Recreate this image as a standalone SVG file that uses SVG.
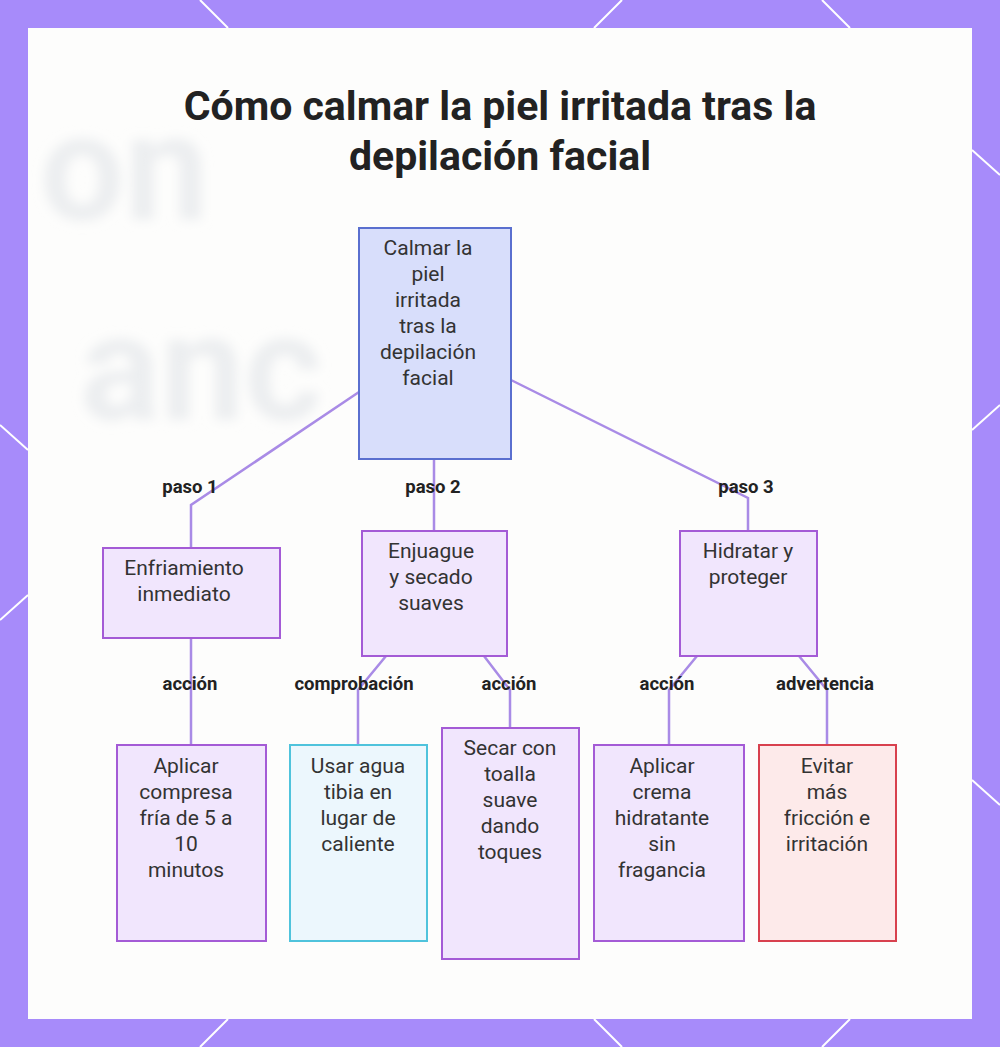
<svg xmlns="http://www.w3.org/2000/svg" width="1000" height="1047" viewBox="0 0 1000 1047">
<style>
.t{font-family:Roboto,"Liberation Sans",sans-serif;font-size:21px;fill:#333;text-anchor:middle}
.h{font-family:Roboto,"Liberation Sans",sans-serif;font-size:41px;font-weight:bold;fill:#222;text-anchor:middle}
.l{font-family:Roboto,"Liberation Sans",sans-serif;font-size:18.5px;font-weight:bold;fill:#222;text-anchor:middle}
.p{fill:#f1e6fd;stroke:#a45bd6;stroke-width:2}
.c{fill:none;stroke:#a98be6;stroke-width:2.5}
.d{stroke:#fff;stroke-width:2}
</style>
<defs><filter id="b"><feGaussianBlur stdDeviation="6"/></filter></defs>
<rect width="1000" height="1047" fill="#a78bfa"/>
<g class="d">
<line x1="200" y1="0" x2="228" y2="28"/><line x1="622" y1="0" x2="594" y2="28"/><line x1="822" y1="0" x2="850" y2="28"/>
<line x1="0" y1="425" x2="28" y2="450"/><line x1="0" y1="620" x2="28" y2="595"/>
<line x1="972" y1="150" x2="1000" y2="175"/><line x1="972" y1="430" x2="1000" y2="405"/><line x1="972" y1="780" x2="1000" y2="805"/>
<line x1="200" y1="1047" x2="228" y2="1019"/><line x1="594" y1="1019" x2="622" y2="1047"/><line x1="822" y1="1047" x2="850" y2="1019"/>
</g>
<rect x="28" y="28" width="944" height="991" fill="#fdfdfc"/>
<g filter="url(#b)" fill="#eceef0" font-family="Roboto,sans-serif" font-weight="bold" font-size="150">
<text x="40" y="220">on</text><text x="80" y="420">anc</text>
</g>
<text class="h" x="500" y="120">Cómo calmar la piel irritada tras la</text>
<text class="h" x="500" y="170">depilación facial</text>
<g id="connectors">
<polyline class="c" points="359,392 191,505 191,548"/>
<polyline class="c" points="434,459 434,531"/>
<polyline class="c" points="511,380 748,498 748,531"/>
<polyline class="c" points="191,638 191,745"/>
<polyline class="c" points="386,656 358,690 358,745"/>
<polyline class="c" points="484,656 510,690 510,728"/>
<polyline class="c" points="697,656 669,690 669,745"/>
<polyline class="c" points="799,656 827,690 827,745"/>
<text class="l" x="190" y="493">paso 1</text>
<text class="l" x="433" y="493">paso 2</text>
<text class="l" x="746" y="493">paso 3</text>
<text class="l" x="190" y="690">acción</text>
<text class="l" x="354" y="690">comprobación</text>
<text class="l" x="509" y="690">acción</text>
<text class="l" x="667" y="690">acción</text>
<text class="l" x="825" y="690">advertencia</text>
</g>
<g id="root"><rect x="359" y="228" width="152" height="231" fill="#d8defb" stroke="#5a6fcf" stroke-width="2"/>
<text class="t" x="428" y="255">Calmar la</text><text class="t" x="428" y="281">piel</text><text class="t" x="428" y="307">irritada</text><text class="t" x="428" y="333">tras la</text><text class="t" x="428" y="359">depilación</text><text class="t" x="428" y="385">facial</text></g>
<g id="enfriamiento"><rect class="p" x="103" y="548" width="177" height="90"/>
<text class="t" x="184" y="575">Enfriamiento</text><text class="t" x="184" y="601">inmediato</text></g>
<g id="enjuague"><rect class="p" x="362" y="531" width="145" height="125"/>
<text class="t" x="431" y="558">Enjuague</text><text class="t" x="431" y="584">y secado</text><text class="t" x="431" y="610">suaves</text></g>
<g id="hidratar"><rect class="p" x="680" y="531" width="137" height="125"/>
<text class="t" x="748" y="558">Hidratar y</text><text class="t" x="748" y="584">proteger</text></g>
<g id="compresa"><rect class="p" x="117" y="745" width="149" height="196"/>
<text class="t" x="186" y="773">Aplicar</text><text class="t" x="186" y="799">compresa</text><text class="t" x="186" y="825">fría de 5 a</text><text class="t" x="186" y="851">10</text><text class="t" x="186" y="877">minutos</text></g>
<g id="agua"><rect x="290" y="745" width="137" height="196" fill="#ecf7fd" stroke="#4fc3dc" stroke-width="2"/>
<text class="t" x="358" y="773">Usar agua</text><text class="t" x="358" y="799">tibia en</text><text class="t" x="358" y="825">lugar de</text><text class="t" x="358" y="851">caliente</text></g>
<g id="secar"><rect class="p" x="442" y="728" width="137" height="231"/>
<text class="t" x="510" y="755">Secar con</text><text class="t" x="510" y="781">toalla</text><text class="t" x="510" y="807">suave</text><text class="t" x="510" y="833">dando</text><text class="t" x="510" y="859">toques</text></g>
<g id="crema"><rect class="p" x="594" y="745" width="150" height="196"/>
<text class="t" x="662" y="773">Aplicar</text><text class="t" x="662" y="799">crema</text><text class="t" x="662" y="825">hidratante</text><text class="t" x="662" y="851">sin</text><text class="t" x="662" y="877">fragancia</text></g>
<g id="evitar"><rect x="759" y="745" width="137" height="196" fill="#fdeaea" stroke="#d8414e" stroke-width="2"/>
<text class="t" x="827" y="773">Evitar</text><text class="t" x="827" y="799">más</text><text class="t" x="827" y="825">fricción e</text><text class="t" x="827" y="851">irritación</text></g>
</svg>
